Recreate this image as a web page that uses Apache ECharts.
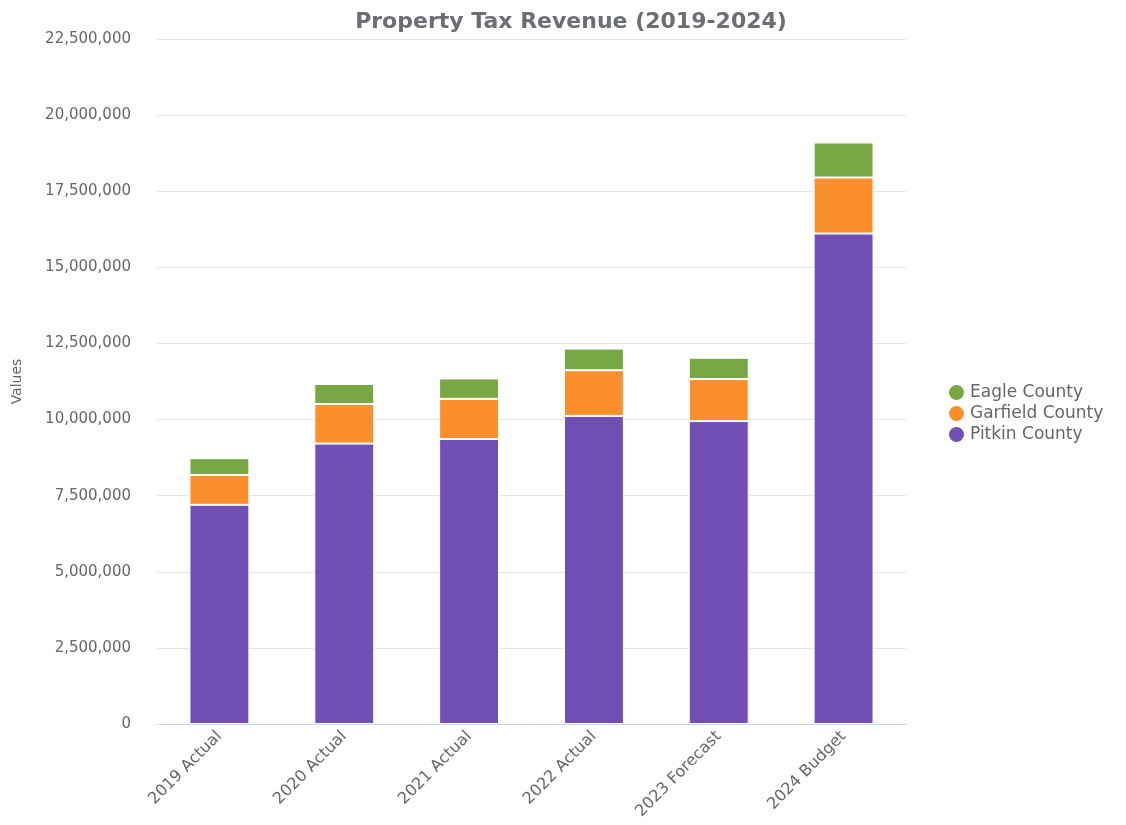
<!DOCTYPE html>
<html>
<head>
<meta charset="utf-8">
<title>Property Tax Revenue (2019-2024)</title>
<script src="https://cdn.jsdelivr.net/npm/echarts@6/dist/echarts.min.js"></script>
<style>
  html, body { margin: 0; padding: 0; background: #ffffff; }
  #chart { width: 1126px; height: 825px; }
</style>
</head>
<body>
<div id="chart"></div>
<script>
// Revenue by county, stacked per year
const categories = ['2019 Actual', '2020 Actual', '2021 Actual', '2022 Actual', '2023 Forecast', '2024 Budget'];
const pitkinCounty = [7200000, 9210000, 9360000, 10120000, 9950000, 16110000];
const garfieldCounty = [980000, 1300000, 1320000, 1500000, 1380000, 1840000];
const eagleCounty = [550000, 660000, 670000, 710000, 700000, 1150000];

const FONT = '"DejaVu Sans", "Noto Sans", sans-serif';
const chart = echarts.init(document.getElementById('chart'), null, { renderer: 'canvas' });

function fmt(v) {
  return String(v).replace(/\B(?=(\d{3})+(?!\d))/g, ',');
}

const barStyle = (color) => ({ color: color, borderColor: '#ffffff', borderWidth: 1 });

chart.setOption({
  animation: false,
  backgroundColor: '#ffffff',
  title: {
    text: 'Property Tax Revenue (2019-2024)',
    left: 566,
    textAlign: 'center',
    top: 6,
    textStyle: { fontFamily: FONT, fontSize: 22, fontWeight: 'bold', color: '#6b6e73' }
  },
  legend: {
    orient: 'vertical',
    left: 942,
    top: 378,
    icon: 'circle',
    itemWidth: 17,
    itemHeight: 17,
    itemGap: 2,
    data: ['Eagle County', 'Garfield County', 'Pitkin County'],
    textStyle: { fontFamily: FONT, fontSize: 17, color: '#666666' }
  },
  grid: { left: 157, right: 220, top: 39, bottom: 101, containLabel: false },
  xAxis: {
    type: 'category',
    data: categories,
    axisLine: { lineStyle: { color: '#ccd6eb' } },
    axisTick: { show: false },
    axisLabel: {
      rotate: 45,
      interval: 0,
      margin: 10,
      fontFamily: FONT,
      fontSize: 16,
      color: '#666666'
    }
  },
  yAxis: {
    type: 'value',
    min: 0,
    max: 22500000,
    interval: 2500000,
    name: 'Values',
    nameLocation: 'middle',
    nameGap: 133,
    nameTextStyle: { fontFamily: FONT, fontSize: 14, color: '#666666' },
    axisLine: { show: false },
    axisTick: { show: false },
    splitLine: { lineStyle: { color: '#e6e6e6' } },
    axisLabel: {
      margin: 26,
      fontFamily: FONT,
      fontSize: 15,
      color: '#666666',
      formatter: fmt
    }
  },
  series: [
    { name: 'Pitkin County', type: 'bar', stack: 'total', barWidth: '48%', data: pitkinCounty, itemStyle: barStyle('#714fb5') },
    { name: 'Garfield County', type: 'bar', stack: 'total', barWidth: '48%', data: garfieldCounty, itemStyle: barStyle('#fb8f2b') },
    { name: 'Eagle County', type: 'bar', stack: 'total', barWidth: '48%', data: eagleCounty, itemStyle: barStyle('#77a843') }
  ]
});
</script>
</body>
</html>
